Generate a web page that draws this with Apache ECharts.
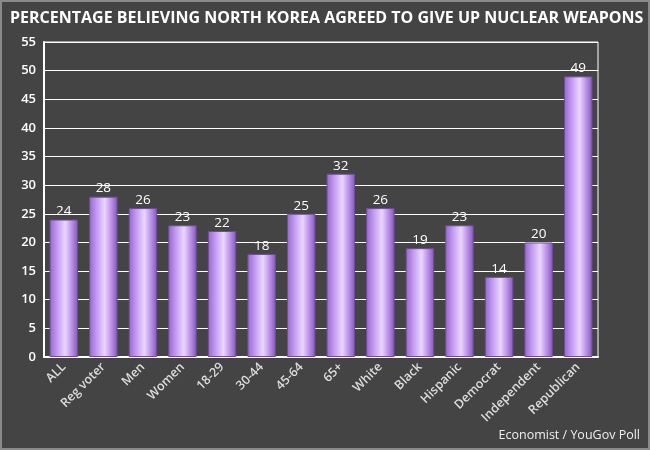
<!DOCTYPE html>
<html lang="en">
<head>
    <meta charset="UTF-8">
    <title>North Korea nuclear poll</title>
    <script src="https://cdn.jsdelivr.net/npm/echarts@6/dist/echarts.min.js"></script>
    <style>
        html, body { margin: 0; padding: 0; background: #444444; }
        #main { width: 650px; height: 450px; box-sizing: border-box; border: 2px solid #8a8a8a; }
    </style>
</head>
<body>
<div id="main"></div>
<script>
    var groups = ['ALL', 'Reg voter', 'Men', 'Women', '18-29', '30-44', '45-64', '65+',
        'White', 'Black', 'Hispanic', 'Democrat', 'Independent', 'Republican'];
    var believing = [24, 28, 26, 23, 22, 18, 25, 32, 26, 19, 23, 14, 20, 49];
    var yTicks = { min: 0, max: 55, step: 5 };

    var myChart = echarts.init(document.getElementById('main'));

    var barFill = new echarts.graphic.LinearGradient(0, 0, 1, 0, [
        { offset: 0, color: '#9466cc' },
        { offset: 0.25, color: '#c197f0' },
        { offset: 0.55, color: '#ead6ff' },
        { offset: 0.8, color: '#b68ae6' },
        { offset: 1, color: '#8257b6' }
    ]);

    option = {
        backgroundColor: '#444444',
        textStyle: { fontFamily: 'Open Sans' },
        title: {
            text: 'PERCENTAGE BELIEVING NORTH KOREA AGREED TO GIVE UP NUCLEAR WEAPONS',
            left: 3,
            top: 3,
            textStyle: { color: '#ffffff', fontSize: 16, fontWeight: 'bold', fontFamily: 'Open Sans' }
        },
        graphic: [{
            type: 'text',
            right: 8,
            bottom: 6,
            style: { text: 'Economist / YouGov Poll', fill: '#eeeeee', font: '12.5px "Open Sans"' }
        }],
        grid: {
            left: 42,
            right: 50,
            top: 40,
            bottom: 91,
            show: true,
            borderColor: '#ffffff',
            borderWidth: 1
        },
        xAxis: {
            type: 'category',
            data: groups,
            axisLine: { lineStyle: { color: '#ffffff', width: 2 } },
            axisTick: { show: false },
            axisLabel: { color: '#dddddd', fontSize: 12.5, fontWeight: 600, rotate: 45, interval: 0, margin: 8 }
        },
        yAxis: {
            type: 'value',
            min: yTicks.min,
            max: yTicks.max,
            interval: yTicks.step,
            axisLine: { show: true, lineStyle: { color: '#ffffff', width: 2 } },
            axisTick: { show: false },
            axisLabel: { color: '#ffffff', fontSize: 13, fontWeight: 600, margin: 8 },
            splitLine: { lineStyle: { color: '#ffffff', width: 1 } }
        },
        series: [{
            type: 'bar',
            data: believing,
            barWidth: '72%',
            itemStyle: { color: barFill, borderColor: '#6e4c99', borderWidth: 1 },
            label: { show: true, position: 'top', distance: 1, color: '#ffffff', fontSize: 13.5 }
        }]
    };

    myChart.setOption(option);
</script>
</body>
</html>
